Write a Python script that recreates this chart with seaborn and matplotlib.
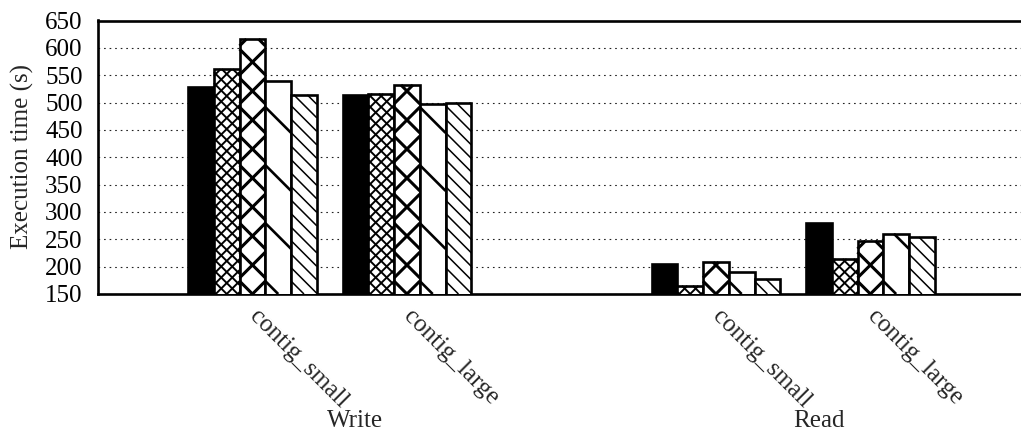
import numpy as np
import pandas as pd
import matplotlib
matplotlib.use("Agg")
import matplotlib.pyplot as plt
import matplotlib.transforms as mtransforms
from matplotlib.collections import LineCollection
import seaborn as sns

# ── data ────────────────────────────────────────────────────────────────────
variants = ["v1", "v2", "v3", "v4", "v5"]
categories = ["contig_small", "contig_large", "contig_small", "contig_large"]
phases = ["Write", "Read"]

write_small = [528, 561, 616, 539, 514]
write_large = [513, 516, 532, 498, 500]
read_small = [204, 165, 208, 190, 177]
read_large = [280, 214, 247, 260, 254]

# ── layout / style ──────────────────────────────────────────────────────────
DPI = 100
W_PX, H_PX = 1021, 434
group_pos = [6, 12, 24, 30]
FONT = 18

faces = ["black", "white", "white", "white", "white"]
# gnuplot-like fill patterns: (vertical spacing px, directions, line width pt)
patterns = [
    None,
    (11.0, ["/", "\\"], 1.4),
    (29.0, ["/", "\\"], 2.2),
    (58.0, ["\\"], 1.9),
    (13.5, ["\\"], 1.1),
]

sns.set_style("white")
plt.rcParams["font.family"] = ["Liberation Serif", "DejaVu Serif"]

df = pd.DataFrame({
    "pos": np.repeat(group_pos, len(variants)),
    "variant": variants * len(group_pos),
    "time": write_small + write_large + read_small + read_large,
})


def add_hatch(ax, patch, spacing, directions, lw):
    """Diagonal fill lines inside the visible part of a bar (pixel spacing)."""
    bb = patch.get_window_extent()
    x0, x1 = bb.x0, bb.x1
    xc = 0.5 * (x0 + x1)
    y0, y1 = max(bb.y0, ax.bbox.y0), min(bb.y1, ax.bbox.y1)
    if y1 <= y0:
        return
    segs = []
    for d in directions:
        s = -1 if d == "\\" else 1
        # line: y = s * x + c, clipped to [x0, x1] x [y0, y1]
        cs = [y0 - s * x0, y0 - s * x1, y1 - s * x0, y1 - s * x1]
        base = y0 - s * xc          # crossings sit on the bar centre line
        k0 = np.floor((min(cs) - base) / spacing)
        k1 = np.ceil((max(cs) - base) / spacing)
        for k in np.arange(k0, k1 + 1):
            c = base + k * spacing
            xa, xb = sorted([s * (y0 - c), s * (y1 - c)])
            lo, hi = max(xa, x0), min(xb, x1)
            if hi > lo:
                segs.append([(lo, s * lo + c), (hi, s * hi + c)])
    lc = LineCollection(segs, colors="black", linewidths=lw,
                        capstyle="butt", zorder=patch.get_zorder() + 0.1)
    ax.add_collection(lc, autolim=False)
    lc.set_transform(mtransforms.IdentityTransform())
    lc.set_clip_box(ax.bbox)


fig = plt.figure(figsize=(W_PX / DPI, H_PX / DPI), dpi=DPI)
ax = fig.add_axes([98 / W_PX, 1 - 294 / H_PX, 1 - 98 / W_PX, (294 - 20.5) / H_PX])

sns.barplot(data=df, x="pos", y="time", hue="variant", native_scale=True,
            width=5 / 6, dodge=True, errorbar=None, saturation=1,
            legend=False, ax=ax)

ax.set_ylim(150, 650)
ax.set_xlim(0, 35.85)

for i, cont in enumerate(ax.containers):
    for p in cont.patches:
        p.set_facecolor(faces[i])
        p.set_edgecolor("black")
        p.set_linewidth(1.9)
        p.set_zorder(3)
        if patterns[i] is not None:
            add_hatch(ax, p, *patterns[i])

ax.set_yticks(np.arange(150, 651, 50))
ax.yaxis.grid(True, color="#222222", linewidth=0.8,
              linestyle=(0, (1.5, 3.5)))
ax.set_axisbelow(True)

ax.tick_params(axis="y", direction="in", length=8, width=1.9,
               labelsize=FONT, pad=11, colors="black")
ax.tick_params(axis="x", length=0, labelsize=FONT, pad=4)
ax.set_xticks(group_pos)
ax.set_xticklabels(categories, rotation=-45, ha="left", va="top",
                   rotation_mode="anchor")
shift = mtransforms.ScaledTranslation(8 / DPI, -6 / DPI, fig.dpi_scale_trans)
for lab in ax.get_xticklabels():
    lab.set_transform(lab.get_transform() + shift)
ax.set_xlabel("")
ax.set_ylabel("")

for side in ["top", "left", "bottom"]:
    ax.spines[side].set_linewidth(1.9)
    ax.spines[side].set_color("black")
ax.spines["right"].set_visible(False)

# phase labels under each pair of clusters
trans = mtransforms.blended_transform_factory(ax.transData, fig.transFigure)
for j, phase in enumerate(phases):
    x = np.mean(group_pos[2 * j:2 * j + 2]) + 1
    ax.text(x, 1 - 427 / H_PX, phase, transform=trans, ha="center",
            va="baseline", fontsize=FONT)

fig.text(22 / W_PX, 1 - 157 / H_PX, "Execution time (s)", rotation=90,
         ha="center", va="center", fontsize=FONT)

fig.savefig("out.png", dpi=DPI)
